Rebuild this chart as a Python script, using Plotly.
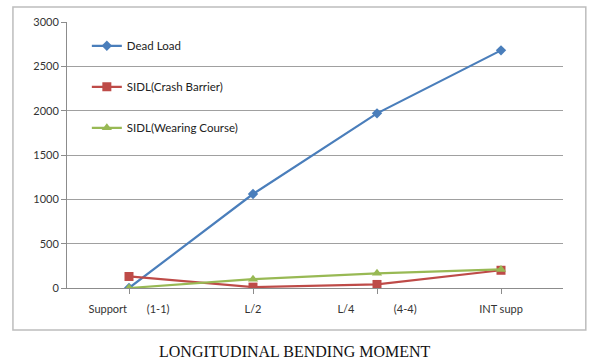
import plotly.graph_objects as go

nb = "\u00a0"
# Section positions along the span
categories = ["Support" + nb * 7 + "(1-1)", "L/2", "L/4" + nb * 14 + "(4-4)", "INT supp"]

# Bending moments for each load case
dead_load = [0, 1060, 1970, 2680]
sidl_crash_barrier = [130, 10, 40, 200]
sidl_wearing_course = [0, 100, 165, 210]

x = list(range(len(categories)))

fig = go.Figure()
fig.add_trace(go.Scatter(
    x=x, y=dead_load, name="Dead Load", mode="lines+markers",
    line=dict(color="#4A7EBB", width=2.2),
    marker=dict(symbol="diamond", size=8, color="#4A7EBB"),
    legendgroup="a"))
fig.add_trace(go.Scatter(
    x=x, y=sidl_crash_barrier, name="SIDL(Crash Barrier)", mode="lines+markers",
    line=dict(color="#BE4B48", width=2.2),
    marker=dict(symbol="square", size=9, color="#BE4B48"),
    legendgroup="b"))
fig.add_trace(go.Scatter(
    x=x, y=sidl_wearing_course, name="SIDL(Wearing Course)", mode="lines+markers",
    line=dict(color="#98B954", width=2.2),
    marker=dict(symbol="triangle-up", size=9, color="#98B954"),
    legendgroup="c"))

sans = "Lato, Open Sans, Liberation Sans, sans-serif"
tick_font = dict(family=sans, size=11, color="#333333")

fig.update_layout(
    width=590, height=361,
    margin=dict(l=67, r=27, t=22, b=73),
    paper_bgcolor="white", plot_bgcolor="white",
    showlegend=True,
    legend=dict(
        x=0.04, y=0.965, xanchor="left", yanchor="top",
        bgcolor="rgba(0,0,0,0)", font=dict(family=sans, size=11.5, color="#222222"),
        tracegroupgap=22, itemwidth=30,
    ),
    xaxis=dict(
        tickmode="array", tickvals=x, ticktext=categories,
        range=[-0.5, 3.5], showgrid=False, zeroline=False,
        showline=True, linecolor="#8c8c8c", linewidth=1,
        ticks="outside", tickson="boundaries", ticklen=5, tickcolor="#8c8c8c",
        tickfont=tick_font, ticklabelstandoff=6, fixedrange=True,
    ),
    yaxis=dict(
        range=[0, 3000], dtick=500, showgrid=True, gridcolor="#a0a0a0", gridwidth=1,
        zeroline=False, showline=True, linecolor="#8c8c8c", linewidth=1,
        ticks="outside", ticklen=5, tickcolor="#8c8c8c",
        tickfont=tick_font, fixedrange=True,
    ),
    shapes=[dict(
        type="rect", xref="paper", yref="paper",
        x0=-0.109, x1=1.046, y0=-0.158, y1=1.056,
        line=dict(color="#bdbdbd", width=1.5), fillcolor="rgba(0,0,0,0)", layer="below",
    )],
    annotations=[dict(
        text="LONGITUDINAL BENDING MOMENT", xref="paper", yref="paper",
        x=0.46, y=-0.239, xanchor="center", yanchor="middle", showarrow=False,
        font=dict(family="Liberation Serif, DejaVu Serif, serif", size=16, color="#111111"),
    )],
)

fig.write_html("out.html")
